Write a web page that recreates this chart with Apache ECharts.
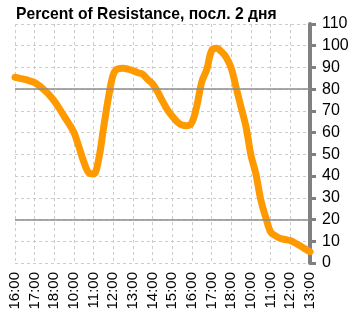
<!DOCTYPE html>
<html>
<head>
<meta charset="utf-8">
<script src="https://cdn.jsdelivr.net/npm/echarts@6/dist/echarts.min.js"></script>
<style>
  html, body { margin: 0; padding: 0; background: #fff; }
  #chart { width: 358px; height: 324px; }
</style>
</head>
<body>
<div id="chart"></div>
<script>
// Hour marks shown on the time axis (two trading days plus part of a third)
const hourLabels = ['16:00', '17:00', '18:00', '10:00', '11:00', '12:00', '13:00', '14:00',
  '15:00', '16:00', '17:00', '18:00', '10:00', '11:00', '12:00', '13:00'];
const dayOfHour = [1, 1, 1, 2, 2, 2, 2, 2, 2, 2, 2, 2, 3, 3, 3, 3];
const quarterMinutes = ['00', '15', '30', '45'];

// Percent of Resistance, one reading per quarter hour
const resistance = [
  85.5, 85.0, 84.5, 83.8,
  83.0, 81.5, 79.5, 77.3,
  74.5, 71.2, 67.5, 64.0,
  60.0, 53.5, 46.5, 41.5,
  41.0, 47.5, 62.0, 76.0,
  86.8, 89.4, 89.6, 89.2,
  88.5, 87.6, 86.8, 84.5,
  82.4, 78.8, 74.5, 70.5,
  67.5, 65.0, 63.5, 63.2,
  64.8, 72.5, 83.5, 89.0,
  97.8, 98.8, 97.2, 94.5,
  89.5, 80.5, 71.5, 62.5,
  49.5, 41.0, 29.0, 21.0,
  14.2, 12.5, 11.3, 10.8,
  10.3, 9.2, 7.9, 6.5,
  5.2
];

// Reference levels
const levels = [80, 20];

// Category keys: day + hh:mm for every quarter hour
const categories = [];
hourLabels.forEach((h, i) => {
  const hh = h.slice(0, 2);
  const last = i === hourLabels.length - 1;
  quarterMinutes.forEach((m, q) => {
    if (last && q > 0) return;
    categories.push(dayOfHour[i] + ' ' + hh + ':' + m);
  });
});

const chart = echarts.init(document.getElementById('chart'), null, { renderer: 'canvas' });
chart.setOption({
  animation: false,
  backgroundColor: '#ffffff',
  title: {
    text: 'Percent of Resistance, посл. 2 дня',
    left: 11,
    top: 2,
    textStyle: {
      fontFamily: 'Liberation Sans',
      fontWeight: 'bold',
      fontSize: 15.7,
      color: '#000000'
    }
  },
  grid: { left: 15, right: 48, top: 24, bottom: 61, containLabel: false },
  xAxis: {
    type: 'category',
    data: categories,
    boundaryGap: false,
    axisLine: { show: false },
    axisTick: { show: false },
    axisLabel: {
      interval: 3,
      rotate: 90,
      margin: 9,
      fontFamily: 'Liberation Sans',
      fontSize: 15,
      color: '#000000',
      formatter: (v) => v.split(' ')[1]
    },
    splitLine: {
      show: true,
      interval: 3,
      lineStyle: { color: '#cccccc', width: 1, type: [3, 3] }
    }
  },
  yAxis: {
    type: 'value',
    position: 'right',
    min: 0,
    max: 110,
    interval: 10,
    axisLine: { show: true, lineStyle: { color: '#808080', width: 4 } },
    axisTick: { show: true, inside: false, length: 6, lineStyle: { color: '#808080', width: 3 } },
    axisLabel: {
      margin: 12,
      fontFamily: 'Liberation Sans',
      fontSize: 16,
      color: '#000000'
    },
    splitLine: { show: true, lineStyle: { color: '#cccccc', width: 1, type: [3, 3] } }
  },
  series: [{
    type: 'line',
    data: resistance,
    smooth: 0.35,
    symbol: 'none',
    lineStyle: { color: '#ff9900', width: 7, cap: 'round', join: 'round' },
    markLine: {
      silent: true,
      symbol: 'none',
      label: { show: false },
      lineStyle: { color: '#8c8c8c', width: 1.5, type: 'solid' },
      data: levels.map(v => ({ yAxis: v }))
    },
    z: 3
  }]
});
</script>
</body>
</html>
